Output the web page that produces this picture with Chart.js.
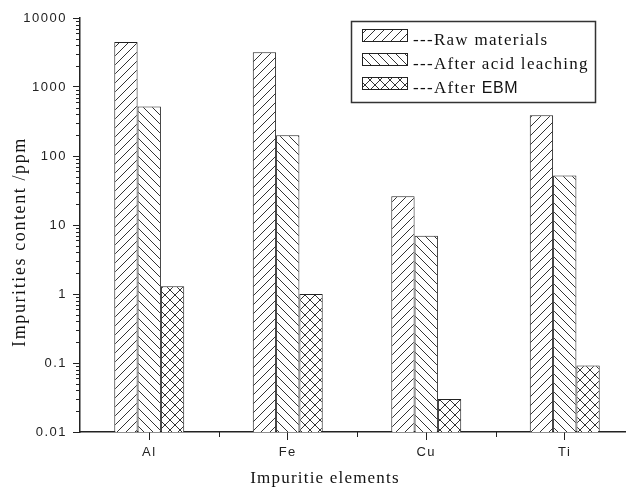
<!DOCTYPE html>
<html>
<head>
<meta charset="utf-8">
<title>Impurities content</title>
<script src="https://cdn.jsdelivr.net/npm/chart.js@4.4.1/dist/chart.umd.min.js"></script>
<style>
  html, body { margin: 0; padding: 0; background: #fff; overflow: hidden; }
  canvas { display: block; }
</style>
</head>
<body>
<canvas id="myChart" width="634" height="489"></canvas>
<script>
// impurity content (ppm) per element and processing stage
const categories = ["Al", "Fe", "Cu", "Ti"];
const rawMaterials = [4500, 3200, 26, 390];
const afterAcidLeaching = [520, 200, 7, 52];
const afterEBM = [1.3, 1.0, 0.03, 0.092];

const yTickValues = [0.01, 0.1, 1, 10, 100, 1000, 10000];
const yTickLabels = ["0.01", "0.1", "1", "10", "100", "1000", "10000"];

const yTitle = "Impurities content /ppm";
const xTitle = "Impuritie elements";

const INK = "#222";
const SERIF = '"Liberation Serif", "Times New Roman", serif';
const SANS = '"Liberation Sans", Arial, sans-serif';

// hatch fills: "/" , "\" and cross
function hatch(kind) {
  const size = kind === "x" ? 10 : 9;
  const c = document.createElement("canvas");
  c.width = c.height = size;
  const g = c.getContext("2d");
  g.fillStyle = "#fff";
  g.fillRect(0, 0, size, size);
  g.strokeStyle = "#333";
  g.lineWidth = 1;
  g.beginPath();
  for (const o of [-size, 0, size]) {
    if (kind === "/" || kind === "x") {
      g.moveTo(o, size);
      g.lineTo(o + size, 0);
    }
    if (kind === "\\" || kind === "x") {
      g.moveTo(o, 0);
      g.lineTo(o + size, size);
    }
  }
  g.stroke();
  return g.createPattern(c, "repeat");
}

// tick labels are drawn with the wide spacing of the old plot
const spacing = {
  id: "spacing",
  beforeLayout(chart) { chart.ctx.letterSpacing = "1.5px"; },
  beforeDraw(chart) { chart.ctx.letterSpacing = "1.5px"; }
};

// minor log ticks on y, boundary ticks between groups on x
const axisTicks = {
  id: "axisTicks",
  afterDraw(chart) {
    const { ctx, scales: { x, y } } = chart;
    ctx.save();
    ctx.strokeStyle = INK;
    ctx.lineWidth = 1;
    ctx.beginPath();
    for (let e = -2; e < 4; e++) {
      for (let k = 2; k <= 9; k++) {
        const py = Math.round(y.getPixelForValue(k * Math.pow(10, e))) + 0.5;
        ctx.moveTo(y.right - 4, py);
        ctx.lineTo(y.right, py);
      }
    }
    const step = x.width / categories.length;
    for (let i = 1; i <= categories.length; i++) {
      const px = Math.round(x.left + i * step) + 0.5;
      ctx.moveTo(px, x.top);
      ctx.lineTo(px, x.top + 5);
    }
    ctx.stroke();
    ctx.restore();
  }
};

// axis titles
const axisTitles = {
  id: "axisTitles",
  afterDraw(chart) {
    const ctx = chart.ctx;
    ctx.save();
    ctx.fillStyle = "#111";
    ctx.textAlign = "center";
    ctx.textBaseline = "alphabetic";
    ctx.font = "17px " + SERIF;
    ctx.letterSpacing = "1.2px";
    ctx.fillText(xTitle, 325, 483);
    ctx.translate(25, 242);
    ctx.rotate(-Math.PI / 2);
    ctx.font = "18px " + SERIF;
    ctx.letterSpacing = "1.6px";
    ctx.fillText(yTitle, 0, 0);
    ctx.restore();
  }
};

// boxed legend in the upper right
const legendBox = {
  id: "legendBox",
  afterDraw(chart) {
    const ctx = chart.ctx;
    ctx.save();
    ctx.lineWidth = 1.5;
    ctx.strokeStyle = "#333";
    ctx.strokeRect(351.5, 21.5, 244, 81);
    ctx.textBaseline = "alphabetic";
    ctx.textAlign = "left";
    ctx.fillStyle = "#111";
    chart.data.datasets.forEach(function (ds, i) {
      const top = 29.5 + i * 24;
      ctx.fillStyle = ds.backgroundColor;
      ctx.fillRect(362, top, 46, 12);
      ctx.lineWidth = 1;
      ctx.strokeStyle = INK;
      ctx.strokeRect(362.5, top, 45, 12);

      ctx.fillStyle = "#111";
      let x = 413;
      const parts = ("---" + ds.label).split(/(\b[A-Z]{2,}\b)/);
      parts.forEach(function (p) {
        if (!p) return;
        const caps = /^[A-Z]{2,}$/.test(p);
        ctx.font = caps ? "16px " + SANS : "17px " + SERIF;
        ctx.letterSpacing = caps ? "0.5px" : "1.3px";
        ctx.fillText(p, x, 45 + i * 24);
        x += ctx.measureText(p).width;
      });
    });
    ctx.restore();
  }
};

var ctx = document.getElementById("myChart").getContext("2d");
var chart = new Chart(ctx, {
  type: "bar",
  data: {
    labels: categories,
    datasets: [
      { label: "Raw materials", data: rawMaterials, backgroundColor: hatch("/") },
      { label: "After acid leaching", data: afterAcidLeaching, backgroundColor: hatch("\\") },
      { label: "After EBM", data: afterEBM, backgroundColor: hatch("x") }
    ].map(function (ds) {
      return Object.assign(ds, {
        borderColor: INK,
        borderWidth: 1,
        barPercentage: 1,
        categoryPercentage: 0.505
      });
    })
  },
  options: {
    responsive: false,
    devicePixelRatio: 1,
    animation: false,
    layout: { padding: { top: 18, right: 0, bottom: 0, left: 0 } },
    plugins: {
      legend: { display: false },
      tooltip: { enabled: false }
    },
    scales: {
      x: {
        offset: true,
        grid: { display: true, drawOnChartArea: false, offset: false, tickLength: 8, tickColor: INK },
        border: { color: INK, width: 1.5 },
        ticks: { color: "#222", padding: 5, font: { family: SANS, size: 13 } },
        afterFit: function (s) { s.height = 57; }
      },
      y: {
        type: "logarithmic",
        min: 0.01,
        max: 10000,
        afterBuildTicks: function (s) {
          s.ticks = yTickValues.map(function (v) { return { value: v, major: true }; });
        },
        grid: { drawOnChartArea: false, tickLength: 7, tickColor: INK },
        border: { color: INK, width: 1.5 },
        ticks: {
          autoSkip: false,
          color: "#222",
          padding: 6,
          font: { family: SANS, size: 13 },
          callback: function (v, i) { return yTickLabels[i]; }
        },
        afterFit: function (s) { s.width = 80; }
      }
    }
  },
  plugins: [spacing, axisTicks, axisTitles, legendBox]
});
</script>
</body>
</html>
